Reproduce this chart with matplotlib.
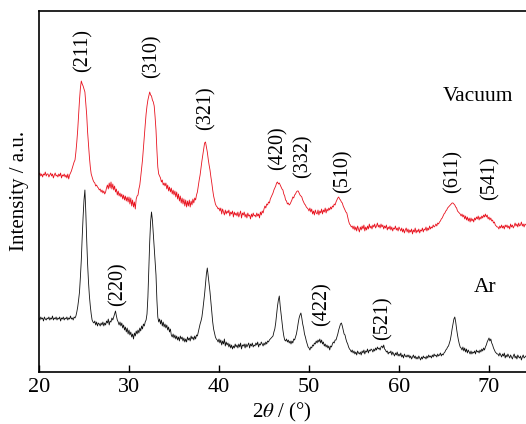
import numpy as np
import matplotlib
matplotlib.use("Agg")
import matplotlib.pyplot as plt

plt.rcParams['font.family'] = ['Liberation Serif', 'DejaVu Serif']
plt.rcParams['mathtext.fontset'] = 'stix'

# 2theta grid: 20.0 .. 74.1 step 0.1
theta_start = 20.0
theta_step = 0.1

vacuum = [
 197,199,196,198,195,198,197,200,196,198,
 198,195,197,199,196,198,194,197,199,196,
 197,195,198,196,199,194,197,196,198,195,
 197,194,198,193,197,199,201,204,207,210,
 212,220,230,242,257,272,284,291,288,286,
 283,280,268,257,240,227,215,205,198,195,
 192,190,189,186,187,185,184,182,183,180,
 182,179,181,178,180,184,187,183,189,184,
 190,183,188,182,186,180,183,177,181,176,
 179,175,178,173,177,172,176,171,175,170,
 175,168,174,166,172,165,170,163,173,176,
 177,183,187,195,204,212,224,236,247,258,
 266,272,276,280,277,276,272,270,266,255,
 242,222,205,198,196,194,190,192,187,189,
 186,189,183,187,181,185,180,184,178,182,
 177,181,175,180,173,178,171,176,169,174,
 168,173,166,172,165,171,166,172,165,171,
 167,173,169,174,172,177,180,186,192,197,
 204,211,217,223,229,230,225,220,213,207,
 202,195,189,182,176,172,168,166,165,163,
 164,161,164,158,163,160,157,162,158,161,
 159,162,156,160,158,161,155,160,157,159,
 156,160,155,158,161,154,159,157,160,155,
 158,154,159,156,157,153,158,155,159,156,
 157,155,159,156,158,154,160,157,161,159,
 163,166,164,168,167,170,169,173,175,177,
 179,182,184,186,189,190,188,189,187,185,
 183,182,178,176,172,171,168,169,167,168,
 170,172,175,174,177,178,180,181,181,179,
 177,176,175,172,170,168,167,165,164,163,
 161,164,160,163,158,161,157,162,159,158,
 162,157,161,159,163,158,162,160,164,159,
 163,161,164,162,165,163,166,165,168,167,
 170,172,174,175,173,172,170,169,166,164,
 162,160,159,155,151,148,147,145,146,143,
 146,142,145,141,146,143,140,145,142,146,
 143,147,141,145,142,146,143,148,144,146,
 143,147,145,148,144,146,149,145,147,144,
 148,145,147,143,146,144,147,142,145,143,
 146,142,145,141,144,143,146,142,144,141,
 145,143,141,144,140,143,139,142,144,140,
 143,139,142,140,143,138,142,140,144,139,
 142,140,143,139,142,141,144,140,143,142,
 145,141,144,142,146,143,145,144,147,145,
 146,148,146,149,148,150,151,153,154,156,
 158,159,161,162,164,165,166,167,168,169,
 169,168,167,165,164,161,160,159,158,156,
 158,155,157,153,156,152,155,151,154,150,
 154,151,153,150,154,152,155,153,156,152,
 155,153,156,154,157,155,158,155,157,153,
 155,152,154,151,152,149,150,147,146,145,
 145,143,146,144,147,144,146,143,147,145,
 147,144,146,143,148,145,147,144,146,149,
 146,148,145,149,146,147,150,146,148,145,
 148,147,
]

argon = [
 54,52,55,53,54,51,55,53,52,54,
 53,55,52,54,53,56,52,54,53,55,
 52,54,53,55,51,54,53,55,52,54,
 53,55,52,54,53,56,53,54,52,55,
 54,56,60,65,72,80,95,112,135,155,
 172,182,160,132,108,90,76,66,58,52,
 50,49,51,47,50,46,49,48,46,49,
 47,50,46,49,47,51,49,53,47,51,
 50,54,52,55,58,61,56,52,50,47,
 50,46,49,44,47,42,45,40,44,38,
 42,37,40,35,38,33,39,36,41,38,
 42,39,44,41,46,43,48,46,50,52,
 58,75,102,130,150,160,152,138,124,110,
 97,72,55,50,53,48,52,46,50,45,
 48,44,47,42,45,40,43,37,35,38,
 34,37,33,36,32,35,31,36,33,35,
 31,34,30,33,30,35,32,34,31,36,
 33,35,32,36,33,37,36,40,44,48,
 51,55,62,70,78,88,98,104,96,88,
 80,70,59,50,43,39,35,33,32,30,
 33,29,32,27,31,28,33,26,30,27,
 29,25,28,24,27,23,26,24,28,25,
 27,24,28,25,29,23,27,26,28,24,
 28,25,27,29,24,28,26,29,25,27,
 26,29,27,30,25,28,27,30,28,26,
 29,27,30,28,31,30,32,33,34,35,
 36,40,43,49,58,66,72,76,66,58,
 50,42,36,32,31,33,30,32,29,31,
 28,31,29,33,32,35,38,43,49,54,
 57,59,54,48,44,38,35,31,28,25,
 24,22,25,24,27,26,29,28,31,29,
 32,30,33,29,32,28,30,26,28,25,
 27,24,26,22,26,25,28,30,29,32,
 32,35,38,42,45,48,49,46,42,38,
 37,33,30,28,25,23,22,20,22,19,
 21,18,20,17,21,19,18,20,17,21,
 19,22,18,21,20,23,19,22,21,23,
 22,20,23,21,24,22,25,23,24,22,
 25,26,24,27,23,22,20,21,18,20,
 19,21,17,20,18,16,19,17,20,16,
 18,16,19,15,17,14,18,16,15,17,
 15,17,14,16,13,15,17,14,16,13,
 15,13,16,14,12,15,13,16,14,15,
 13,16,14,17,15,16,14,17,15,18,
 16,17,15,18,16,17,19,16,18,17,
 19,20,22,23,25,26,29,32,37,43,
 48,53,55,50,43,37,32,28,25,24,
 22,25,21,24,20,23,19,22,20,18,
 21,18,20,19,21,18,22,20,21,19,
 22,20,23,21,24,22,25,27,30,32,
 34,31,33,29,27,24,22,20,19,18,
 18,16,19,17,15,18,16,19,14,17,
 15,18,16,14,17,15,13,16,18,14,
 16,13,17,15,14,16,12,15,17,14,
 15,16,
]

vac_labels = ['(211)', '(310)', '(321)', '(420)', '(332)', '(510)', '(611)', '(541)']
vac_label_x = [24.9, 32.5, 38.6, 46.6, 49.3, 53.8, 66.0, 70.1]
vac_label_y = [300, 294, 242, 202, 194, 179, 179, 172]

ar_labels = ['(220)', '(422)', '(521)']
ar_label_x = [28.8, 51.4, 58.2]
ar_label_y = [66, 46, 32]

x_ticks = [20, 30, 40, 50, 60, 70]

tt_v = theta_start + theta_step * np.arange(len(vacuum))
tt_a = theta_start + theta_step * np.arange(len(argon))

fig = plt.figure(figsize=(5.26, 4.24), dpi=100)
ax = fig.add_axes([39/526, 52/424, 495/526, 361/424])

ax.plot(tt_v, vacuum, color='#e8121e', lw=0.6)
ax.plot(tt_a, argon, color='#111111', lw=0.6)

ax.set_xlim(20, 75)
ax.set_ylim(0, 361)
ax.set_xticks(x_ticks)
ax.set_yticks([])
ax.tick_params(axis='x', direction='in', length=5, width=1, labelsize=16, pad=4)
for s in ax.spines.values():
    s.set_linewidth(1.2)
ax.spines['right'].set_visible(False)

for t, xv, yv in zip(vac_labels, vac_label_x, vac_label_y):
    ax.text(xv, yv, t, rotation=90, ha='center', va='bottom', fontsize=14.5)
for t, xv, yv in zip(ar_labels, ar_label_x, ar_label_y):
    ax.text(xv, yv, t, rotation=90, ha='center', va='bottom', fontsize=14.5)

ax.text(68.8, 276, 'Vacuum', ha='center', va='center', fontsize=15.5)
ax.text(69.6, 85, 'Ar', ha='center', va='center', fontsize=15.5)

fig.text(282/526, 1 - 412/424, r'2$\theta$ / (°)', ha='center', va='center', fontsize=15)
fig.text(20/526, 1 - 191/424, 'Intensity / a.u.', ha='center', va='center', rotation=90, fontsize=15)

fig.savefig('out.png', dpi=100)
